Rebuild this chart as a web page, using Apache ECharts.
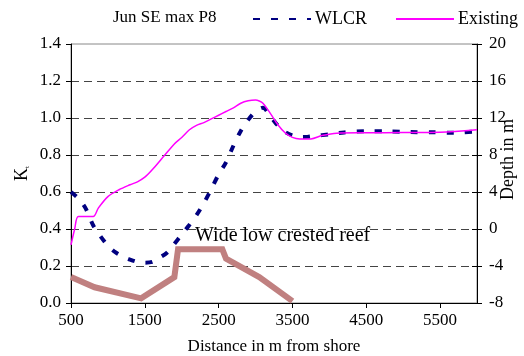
<!DOCTYPE html>
<html>
<head>
<meta charset="utf-8">
<script src="https://cdn.jsdelivr.net/npm/echarts@6/dist/echarts.min.js"></script>
<style>
  html, body { margin: 0; padding: 0; background: #fff; overflow: hidden; }
  #chart { width: 524px; height: 356px; }
</style>
</head>
<body>
<div id="chart"></div>
<script>
// Transmission coefficient Kt along the profile, with the WLCR (wide low crested reef)
const wlcrDistance = [500, 600, 700, 800, 900, 1000, 1100, 1200, 1300, 1400, 1500, 1600, 1700, 1800, 1900,
  2000, 2100, 2200, 2300, 2400, 2500, 2600, 2700, 2800, 2900, 3000, 3100, 3200, 3300, 3400, 3500,
  3600, 3700, 3800, 4000, 4200, 4500, 4800, 5100, 5400, 5700, 6000];
const wlcrKt = [0.60, 0.565, 0.51, 0.42, 0.36, 0.31, 0.275, 0.252, 0.235, 0.222, 0.218, 0.222, 0.245, 0.272, 0.32,
  0.37, 0.42, 0.475, 0.54, 0.615, 0.695, 0.76, 0.85, 0.93, 0.99, 1.035, 1.055, 1.01, 0.96, 0.925, 0.905,
  0.897, 0.898, 0.903, 0.912, 0.922, 0.928, 0.928, 0.924, 0.923, 0.92, 0.928];

// Transmission coefficient Kt for the existing bathymetry
const existingDistance = [500, 550, 600, 800, 870, 1000, 1150, 1300, 1400, 1500, 1600, 1750, 1900, 2000,
  2100, 2200, 2300, 2400, 2500, 2600, 2700, 2800, 2900, 3000, 3050, 3100, 3200, 3300, 3400, 3500,
  3600, 3750, 3900, 4100, 4500, 5000, 5500, 6000];
const existingKt = [0.314, 0.40, 0.467, 0.467, 0.513, 0.575, 0.612, 0.639, 0.655, 0.68, 0.72, 0.79, 0.86, 0.895,
  0.935, 0.96, 0.975, 0.995, 1.015, 1.035, 1.055, 1.08, 1.093, 1.097, 1.092, 1.08, 1.025, 0.965, 0.92, 0.895,
  0.887, 0.887, 0.905, 0.918, 0.92, 0.921, 0.923, 0.937];

// Reef cross-section (depth in m, right axis)
const reefDistance = [500, 820, 1450, 1900, 1950, 2550, 2600, 3050, 3500];
const reefDepth = [-5.2, -6.3, -7.5, -5.2, -2.2, -2.2, -3.2, -5.2, -7.8];

const zip = (xs, ys) => xs.map((x, i) => [x, ys[i]]);

const serif = '"Liberation Serif", "Times New Roman", serif';
const chart = echarts.init(document.getElementById('chart'), null, { renderer: 'canvas' });

chart.setOption({
  animation: false,
  backgroundColor: '#fff',
  textStyle: { fontFamily: serif, color: '#000' },
  title: {
    text: 'Jun SE max P8',
    left: 108, top: 4,
    textStyle: { fontFamily: serif, fontSize: 17, fontWeight: 'normal', color: '#000' }
  },
  legend: {
    data: ['WLCR', 'Existing'],
    left: 247, top: 5, width: 300,
    itemWidth: 58, itemHeight: 14, itemGap: 28,
    itemStyle: { opacity: 0 },
    textStyle: { fontFamily: serif, fontSize: 18, color: '#000', padding: [0, 0, 0, -1] }
  },
  grid: {
    left: 71, right: 47, top: 44, bottom: 53,
    outerBoundsMode: 'none',
    containLabel: false,
    show: true, borderColor: '#888', borderWidth: 1, backgroundColor: 'transparent'
  },
  xAxis: {
    type: 'value',
    min: 500, max: 6000, interval: 1000,
    name: 'Distance in m from shore',
    nameLocation: 'middle', nameGap: 35, nameMoveOverlap: false,
    nameTextStyle: { fontFamily: serif, fontSize: 17, color: '#000' },
    axisLine: { lineStyle: { color: '#000', width: 1 } },
    axisTick: { show: true, length: 5, lineStyle: { color: '#000' } },
    axisLabel: { fontFamily: serif, fontSize: 17, color: '#000', margin: 9, showMaxLabel: false,
      formatter: v => String(v) },
    splitLine: { show: false }
  },
  yAxis: [
    {
      type: 'value',
      min: 0, max: 1.4, interval: 0.2,
      name: '{k|K}{t|t}',
      nameLocation: 'middle', nameGap: 40, nameRotate: 90, nameMoveOverlap: false,
      nameTextStyle: {
        rich: {
          k: { fontFamily: serif, fontSize: 18, color: '#000' },
          t: { fontFamily: serif, fontSize: 7, color: '#000', verticalAlign: 'bottom' }
        }
      },
      axisLine: { show: true, lineStyle: { color: '#000', width: 1 } },
      axisTick: { show: true, length: 5, lineStyle: { color: '#000' } },
      axisLabel: { fontFamily: serif, fontSize: 17, color: '#000', margin: 10,
        formatter: v => v.toFixed(1) },
      splitLine: { show: true, showMinLine: false, showMaxLine: false,
        lineStyle: { color: '#444', width: 1, type: [8, 5] } }
    },
    {
      type: 'value',
      position: 'right',
      min: -8, max: 20, interval: 4,
      name: 'Depth in m',
      nameLocation: 'middle', nameGap: 22, nameRotate: 90, nameMoveOverlap: false,
      nameTextStyle: { fontFamily: serif, fontSize: 18, color: '#000', padding: [0, 0, 0, 28] },
      axisLine: { show: true, lineStyle: { color: '#000', width: 1 } },
      axisTick: { show: true, length: 5, lineStyle: { color: '#000' } },
      axisLabel: { fontFamily: serif, fontSize: 17, color: '#000', margin: 12 },
      splitLine: { show: false }
    },
    {
      // inner half of the crossing ticks on the depth axis
      type: 'value',
      position: 'right',
      min: -8, max: 20, interval: 4,
      axisLine: { show: false },
      axisTick: { show: true, inside: true, length: 5, lineStyle: { color: '#000' } },
      axisLabel: { show: false },
      splitLine: { show: false }
    }
  ],
  series: [
    {
      name: 'Reef',
      type: 'line',
      yAxisIndex: 1,
      data: zip(reefDistance, reefDepth),
      showSymbol: false, symbol: 'none',
      lineStyle: { color: '#C08080', width: 6, join: 'miter' },
      itemStyle: { color: '#C08080' },
      z: 2
    },
    {
      name: 'WLCR',
      type: 'line',
      data: zip(wlcrDistance, wlcrKt),
      showSymbol: false, symbol: 'none',
      smooth: 0.3,
      lineStyle: { color: '#000080', width: 4, type: [7, 11], cap: 'butt' },
      itemStyle: { color: '#000080' },
      z: 3
    },
    {
      name: 'Existing',
      type: 'line',
      data: zip(existingDistance, existingKt),
      showSymbol: false, symbol: 'none',
      smooth: 0.3,
      lineStyle: { color: '#FF00FF', width: 1.5 },
      itemStyle: { color: '#FF00FF' },
      z: 4
    }
  ],
  graphic: [
    {
      type: 'text',
      left: 195, top: 226,
      style: { text: 'Wide low crested reef', font: '20px ' + serif, fill: '#000' },
      z: 10
    }
  ]
});
</script>
</body>
</html>
